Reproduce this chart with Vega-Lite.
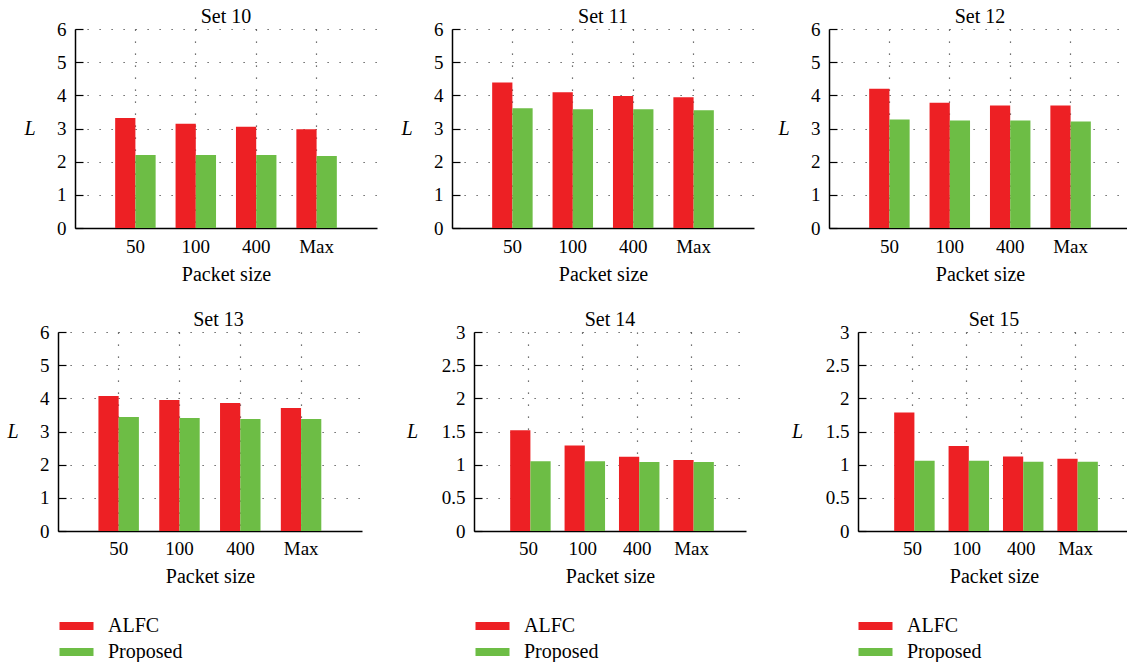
{
  "$schema": "https://vega.github.io/schema/vega-lite/v6.json",
  "padding": {"left": 6, "top": 7, "right": 0, "bottom": 0},
  "data": {"values": [
    {"set": "Set 10", "size": "50", "method": "ALFC", "L": 3.32},
    {"set": "Set 10", "size": "100", "method": "ALFC", "L": 3.14},
    {"set": "Set 10", "size": "400", "method": "ALFC", "L": 3.05},
    {"set": "Set 10", "size": "Max", "method": "ALFC", "L": 2.98},
    {"set": "Set 10", "size": "50", "method": "Proposed", "L": 2.2},
    {"set": "Set 10", "size": "100", "method": "Proposed", "L": 2.2},
    {"set": "Set 10", "size": "400", "method": "Proposed", "L": 2.2},
    {"set": "Set 10", "size": "Max", "method": "Proposed", "L": 2.17},
    {"set": "Set 11", "size": "50", "method": "ALFC", "L": 4.39},
    {"set": "Set 11", "size": "100", "method": "ALFC", "L": 4.09},
    {"set": "Set 11", "size": "400", "method": "ALFC", "L": 3.98},
    {"set": "Set 11", "size": "Max", "method": "ALFC", "L": 3.94},
    {"set": "Set 11", "size": "50", "method": "Proposed", "L": 3.61},
    {"set": "Set 11", "size": "100", "method": "Proposed", "L": 3.58},
    {"set": "Set 11", "size": "400", "method": "Proposed", "L": 3.58},
    {"set": "Set 11", "size": "Max", "method": "Proposed", "L": 3.55},
    {"set": "Set 12", "size": "50", "method": "ALFC", "L": 4.2},
    {"set": "Set 12", "size": "100", "method": "ALFC", "L": 3.78},
    {"set": "Set 12", "size": "400", "method": "ALFC", "L": 3.69},
    {"set": "Set 12", "size": "Max", "method": "ALFC", "L": 3.69},
    {"set": "Set 12", "size": "50", "method": "Proposed", "L": 3.27},
    {"set": "Set 12", "size": "100", "method": "Proposed", "L": 3.24},
    {"set": "Set 12", "size": "400", "method": "Proposed", "L": 3.24},
    {"set": "Set 12", "size": "Max", "method": "Proposed", "L": 3.21},
    {"set": "Set 13", "size": "50", "method": "ALFC", "L": 4.07},
    {"set": "Set 13", "size": "100", "method": "ALFC", "L": 3.95},
    {"set": "Set 13", "size": "400", "method": "ALFC", "L": 3.86},
    {"set": "Set 13", "size": "Max", "method": "ALFC", "L": 3.71},
    {"set": "Set 13", "size": "50", "method": "Proposed", "L": 3.44},
    {"set": "Set 13", "size": "100", "method": "Proposed", "L": 3.41},
    {"set": "Set 13", "size": "400", "method": "Proposed", "L": 3.38},
    {"set": "Set 13", "size": "Max", "method": "Proposed", "L": 3.38},
    {"set": "Set 14", "size": "50", "method": "ALFC", "L": 1.52},
    {"set": "Set 14", "size": "100", "method": "ALFC", "L": 1.29},
    {"set": "Set 14", "size": "400", "method": "ALFC", "L": 1.12},
    {"set": "Set 14", "size": "Max", "method": "ALFC", "L": 1.07},
    {"set": "Set 14", "size": "50", "method": "Proposed", "L": 1.05},
    {"set": "Set 14", "size": "100", "method": "Proposed", "L": 1.05},
    {"set": "Set 14", "size": "400", "method": "Proposed", "L": 1.04},
    {"set": "Set 14", "size": "Max", "method": "Proposed", "L": 1.04},
    {"set": "Set 15", "size": "50", "method": "ALFC", "L": 1.785},
    {"set": "Set 15", "size": "100", "method": "ALFC", "L": 1.28},
    {"set": "Set 15", "size": "400", "method": "ALFC", "L": 1.125},
    {"set": "Set 15", "size": "Max", "method": "ALFC", "L": 1.09},
    {"set": "Set 15", "size": "50", "method": "Proposed", "L": 1.06},
    {"set": "Set 15", "size": "100", "method": "Proposed", "L": 1.06},
    {"set": "Set 15", "size": "400", "method": "Proposed", "L": 1.045},
    {"set": "Set 15", "size": "Max", "method": "Proposed", "L": 1.045}
  ]},
  "spacing": 26,
  "resolve": {"scale": {"color": "independent"}, "legend": {"color": "independent"}},
  "vconcat": [
    {
      "spacing": 75,
      "bounds": "flush",
      "resolve": {"scale": {"color": "independent"}, "legend": {"color": "independent"}},
      "hconcat": [
        {
          "title": "Set 10", "width": 302, "height": 199,
          "transform": [{"filter": "datum.set === 'Set 10'"}],
          "mark": "bar",
          "encoding": {
            "x": {"field": "size", "type": "nominal", "sort": ["50", "100", "400", "Max"], "scale": {"paddingInner": 0.33, "paddingOuter": 0.665}, "axis": {"title": "Packet size", "bandPosition": 0.5, "tickExtra": false}},
            "xOffset": {"field": "method", "sort": ["ALFC", "Proposed"]},
            "y": {"field": "L", "type": "quantitative", "scale": {"domain": [0, 6], "nice": false}, "axis": {"title": "L", "values": [0, 1, 2, 3, 4, 5, 6], "format": "~g"}},
            "color": {"field": "method", "type": "nominal", "scale": {"domain": ["ALFC", "Proposed"], "range": ["#ed2024", "#6dbd45"]}, "legend": null}
          }
        },
        {
          "title": "Set 11", "width": 302, "height": 199,
          "transform": [{"filter": "datum.set === 'Set 11'"}],
          "mark": "bar",
          "encoding": {
            "x": {"field": "size", "type": "nominal", "sort": ["50", "100", "400", "Max"], "scale": {"paddingInner": 0.33, "paddingOuter": 0.665}, "axis": {"title": "Packet size", "bandPosition": 0.5, "tickExtra": false}},
            "xOffset": {"field": "method", "sort": ["ALFC", "Proposed"]},
            "y": {"field": "L", "type": "quantitative", "scale": {"domain": [0, 6], "nice": false}, "axis": {"title": "L", "values": [0, 1, 2, 3, 4, 5, 6], "format": "~g"}},
            "color": {"field": "method", "type": "nominal", "scale": {"domain": ["ALFC", "Proposed"], "range": ["#ed2024", "#6dbd45"]}, "legend": null}
          }
        },
        {
          "title": "Set 12", "width": 302, "height": 199,
          "transform": [{"filter": "datum.set === 'Set 12'"}],
          "mark": "bar",
          "encoding": {
            "x": {"field": "size", "type": "nominal", "sort": ["50", "100", "400", "Max"], "scale": {"paddingInner": 0.33, "paddingOuter": 0.665}, "axis": {"title": "Packet size", "bandPosition": 0.5, "tickExtra": false}},
            "xOffset": {"field": "method", "sort": ["ALFC", "Proposed"]},
            "y": {"field": "L", "type": "quantitative", "scale": {"domain": [0, 6], "nice": false}, "axis": {"title": "L", "values": [0, 1, 2, 3, 4, 5, 6], "format": "~g"}},
            "color": {"field": "method", "type": "nominal", "scale": {"domain": ["ALFC", "Proposed"], "range": ["#ed2024", "#6dbd45"]}, "legend": null}
          }
        }
      ]
    },
    {
      "spacing": 112,
      "bounds": "flush",
      "resolve": {"scale": {"color": "independent"}, "legend": {"color": "independent"}},
      "hconcat": [
        {
          "title": "Set 13", "width": 287, "height": 199,
          "transform": [{"filter": "datum.set === 'Set 13'"}],
          "mark": "bar",
          "encoding": {
            "x": {"field": "size", "type": "nominal", "sort": ["50", "100", "400", "Max"], "scale": {"paddingInner": 0.33, "paddingOuter": 0.665, "range": [-17, 287]}, "axis": {"title": "Packet size", "bandPosition": 0.5, "tickExtra": false, "labelPadding": 23, "titleY": 51}},
            "xOffset": {"field": "method", "sort": ["ALFC", "Proposed"]},
            "y": {"field": "L", "type": "quantitative", "scale": {"domain": [0, 6], "nice": false}, "axis": {"title": "L", "values": [0, 1, 2, 3, 4, 5, 6], "format": "~g", "offset": 17}},
            "color": {"field": "method", "type": "nominal", "scale": {"domain": ["ALFC", "Proposed"], "range": ["#ed2024", "#6dbd45"]},
              "legend": {"orient": "none", "legendX": -8.5, "legendY": 284, "title": null, "direction": "vertical", "symbolType": "M-2,-0.47H2V0.47H-2Z", "symbolSize": 289, "symbolStrokeWidth": 0, "labelOffset": 21.5, "rowPadding": 6, "padding": 0, "labelFont": "Liberation Serif", "labelFontSize": 20, "labelColor": "#000"}}
          }
        },
        {
          "title": "Set 14", "width": 272, "height": 199,
          "transform": [{"filter": "datum.set === 'Set 14'"}],
          "mark": "bar",
          "encoding": {
            "x": {"field": "size", "type": "nominal", "sort": ["50", "100", "400", "Max"], "scale": {"paddingInner": 0.33, "paddingOuter": 0.665}, "axis": {"title": "Packet size", "bandPosition": 0.5, "tickExtra": false, "labelPadding": 23, "titleY": 51}},
            "xOffset": {"field": "method", "sort": ["ALFC", "Proposed"]},
            "y": {"field": "L", "type": "quantitative", "scale": {"domain": [0, 3], "nice": false}, "axis": {"title": "L", "values": [0, 0.5, 1, 1.5, 2, 2.5, 3], "format": "~g", "titleX": -62}},
            "color": {"field": "method", "type": "nominal", "scale": {"domain": ["ALFC", "Proposed"], "range": ["#ed2024", "#6dbd45"]},
              "legend": {"orient": "none", "legendX": 8.5, "legendY": 284, "title": null, "direction": "vertical", "symbolType": "M-2,-0.47H2V0.47H-2Z", "symbolSize": 289, "symbolStrokeWidth": 0, "labelOffset": 21.5, "rowPadding": 6, "padding": 0, "labelFont": "Liberation Serif", "labelFontSize": 20, "labelColor": "#000"}}
          }
        },
        {
          "title": "Set 15", "width": 272, "height": 199,
          "transform": [{"filter": "datum.set === 'Set 15'"}],
          "mark": "bar",
          "encoding": {
            "x": {"field": "size", "type": "nominal", "sort": ["50", "100", "400", "Max"], "scale": {"paddingInner": 0.33, "paddingOuter": 0.665}, "axis": {"title": "Packet size", "bandPosition": 0.5, "tickExtra": false, "labelPadding": 23, "titleY": 51}},
            "xOffset": {"field": "method", "sort": ["ALFC", "Proposed"]},
            "y": {"field": "L", "type": "quantitative", "scale": {"domain": [0, 3], "nice": false}, "axis": {"title": "L", "values": [0, 0.5, 1, 1.5, 2, 2.5, 3], "format": "~g", "titleX": -61}},
            "color": {"field": "method", "type": "nominal", "scale": {"domain": ["ALFC", "Proposed"], "range": ["#ed2024", "#6dbd45"]},
              "legend": {"orient": "none", "legendX": 7.5, "legendY": 284, "title": null, "direction": "vertical", "symbolType": "M-2,-0.47H2V0.47H-2Z", "symbolSize": 289, "symbolStrokeWidth": 0, "labelOffset": 21.5, "rowPadding": 6, "padding": 0, "labelFont": "Liberation Serif", "labelFontSize": 20, "labelColor": "#000"}}
          }
        }
      ]
    }
  ],
  "config": {
    "view": {"stroke": null},
    "font": "Liberation Serif",
    "axis": {"labelFont": "Liberation Serif", "labelFontSize": 19, "labelColor": "#000", "titleFont": "Liberation Serif", "titleFontSize": 20, "titleFontWeight": "normal", "titleColor": "#000", "domainColor": "#000", "domainWidth": 1.5, "grid": true, "gridColor": "#444", "gridDash": [1.2, 10.8], "gridWidth": 1.2, "gridOpacity": 1},
    "axisX": {"ticks": false, "labelAngle": 0, "labelBaseline": "alphabetic", "labelPadding": 24, "titleBaseline": "alphabetic", "titleY": 52},
    "axisY": {"tickSize": -8, "tickColor": "#000", "tickWidth": 1.2, "labelPadding": 17, "titleAngle": 0, "titleX": -45.5, "titleY": 99.5, "titleAlign": "center", "titleBaseline": "middle", "titleFontStyle": "italic"},
    "title": {"font": "Liberation Serif", "fontSize": 20, "fontWeight": "normal", "color": "#000", "baseline": "alphabetic", "offset": -7}
  }
}
